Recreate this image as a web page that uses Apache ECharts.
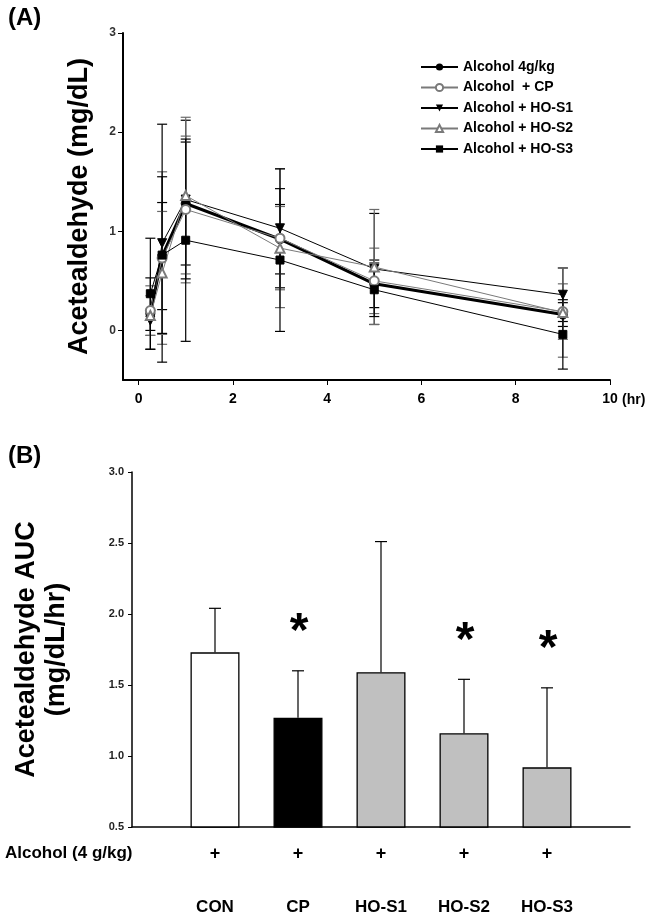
<!DOCTYPE html>
<html>
<head>
<meta charset="utf-8">
<script src="https://cdn.jsdelivr.net/npm/echarts@6/dist/echarts.min.js"></script>
<style>
  html, body { margin: 0; padding: 0; background: #fff; }
  #main { width: 670px; height: 917px; }
</style>
</head>
<body>
<div id="main"></div>
<script>
// (A) time course, hours
const times = [0.25, 0.5, 1, 3, 5, 9];
const alcMean = [0.17, 0.75, 1.28, 0.92, 0.47, 0.16];
const alcSd = [0.36, 0.54, 0.62, 0.35, 0.24, 0.12];
const cpMean = [0.20, 0.73, 1.22, 0.93, 0.50, 0.19];
const cpSd = [0.25, 0.87, 0.74, 0.70, 0.33, 0.28];
const s1Mean = [0.10, 0.88, 1.32, 1.03, 0.62, 0.36];
const s1Sd = [0.10, 1.20, 0.80, 0.60, 0.56, 0.27];
const s2Mean = [0.15, 0.58, 1.36, 0.83, 0.64, 0.18];
const s2Sd = [0.20, 0.62, 0.79, 0.42, 0.58, 0.45];
const s3Mean = [0.37, 0.76, 0.91, 0.71, 0.41, -0.04];
const s3Sd = [0.56, 0.79, 1.02, 0.72, 0.27, 0.35];
const xTicks = [0, 2, 4, 6, 8, 10];
const yTicks = [0, 1, 2, 3];

// (B) AUC
const groups = ['CON', 'CP', 'HO-S1', 'HO-S2', 'HO-S3'];
const aucMean = [1.73, 1.27, 1.59, 1.16, 0.92];
const aucTop = [2.04, 1.60, 2.51, 1.54, 1.48];
const aucSig = [false, true, false, true, true];
const alcoholRow = ['+', '+', '+', '+', '+'];

const FONT = '"Liberation Sans", Arial, sans-serif';
const NARROW = '"Liberation Sans Narrow", "Liberation Sans", Arial, sans-serif';

const lineDefs = [
    { name: 'Alcohol 4g/kg', mean: alcMean, sd: alcSd, symbol: 'circle', rot: 0, color: '#000', width: 3 },
    { name: 'Alcohol  + CP', mean: cpMean, sd: cpSd, symbol: 'emptyCircle', rot: 0, color: '#7a7a7a', width: 1 },
    { name: 'Alcohol + HO-S1', mean: s1Mean, sd: s1Sd, symbol: 'triangle', rot: 180, color: '#000', width: 1 },
    { name: 'Alcohol + HO-S2', mean: s2Mean, sd: s2Sd, symbol: 'emptyTriangle', rot: 0, color: '#7a7a7a', width: 1 },
    { name: 'Alcohol + HO-S3', mean: s3Mean, sd: s3Sd, symbol: 'rect', rot: 0, color: '#000', width: 1 }
];

function errBar(color) {
    return function (params, api) {
        const x = api.value(0);
        const lo = api.coord([x, api.value(1)]);
        const hi = api.coord([x, api.value(2)]);
        const w = 5;
        const st = { stroke: color, lineWidth: 1.2 };
        return {
            type: 'group',
            children: [
                { type: 'line', shape: { x1: lo[0], y1: lo[1], x2: hi[0], y2: hi[1] }, style: st },
                { type: 'line', shape: { x1: lo[0] - w, y1: lo[1], x2: lo[0] + w, y2: lo[1] }, style: st },
                { type: 'line', shape: { x1: hi[0] - w, y1: hi[1], x2: hi[0] + w, y2: hi[1] }, style: st }
            ]
        };
    };
}

const series = [];
lineDefs.forEach(d => {
    series.push({
        type: 'custom',
        xAxisIndex: 0,
        yAxisIndex: 0,
        z: 1,
        silent: true,
        renderItem: errBar(d.color === '#000' ? '#000' : '#6a6a6a'),
        data: times.map((t, i) => [t, d.mean[i] - d.sd[i], d.mean[i] + d.sd[i]])
    });
});
lineDefs.forEach(d => {
    const hollow = d.symbol.indexOf('empty') === 0;
    series.push({
        name: d.name,
        type: 'line',
        xAxisIndex: 0,
        yAxisIndex: 0,
        z: 3,
        symbol: d.symbol,
        symbolRotate: d.rot,
        symbolSize: d.symbol === 'rect' ? 8 : 9,
        showAllSymbol: true,
        lineStyle: { color: d.color, width: d.width },
        itemStyle: { color: hollow ? d.color : '#000', borderColor: hollow ? '#555' : '#000' },
        data: times.map((t, i) => [t, d.mean[i]])
    });
});

const slotCats = [''].concat(groups, ['']);
const plusCats = [''].concat(alcoholRow, ['']);
const barColors = ['#ffffff', '#000000', '#c0c0c0', '#c0c0c0', '#c0c0c0'];

series.push({
    type: 'bar',
    xAxisIndex: 1,
    yAxisIndex: 1,
    barWidth: 49,
    z: 2,
    data: ['-'].concat(aucMean.map((v, i) => ({
        value: v,
        itemStyle: { color: barColors[i], borderColor: '#000', borderWidth: 1.3 }
    })), ['-'])
});

series.push({
    type: 'custom',
    xAxisIndex: 1,
    yAxisIndex: 1,
    z: 1,
    silent: true,
    renderItem: function (params, api) {
        const x = api.value(0);
        const lo = api.coord([x, api.value(1)]);
        const hi = api.coord([x, api.value(2)]);
        const st = { stroke: '#000', lineWidth: 1.2 };
        const kids = [
            { type: 'line', shape: { x1: lo[0], y1: lo[1], x2: hi[0], y2: hi[1] }, style: st },
            { type: 'line', shape: { x1: hi[0] - 6, y1: hi[1], x2: hi[0] + 6, y2: hi[1] }, style: st }
        ];
        if (api.value(3)) {
            kids.push({
                type: 'text',
                x: hi[0] + 1,
                y: hi[1] - 38,
                style: { text: '*', font: 'bold 48px ' + FONT, fill: '#000', align: 'center', verticalAlign: 'middle' }
            });
        }
        return { type: 'group', children: kids };
    },
    data: groups.map((g, i) => [i + 1, aucMean[i], aucTop[i], aucSig[i] ? 1 : 0])
});

const option = {
    animation: false,
    backgroundColor: '#fff',
    textStyle: { fontFamily: FONT },
    grid: [
        { left: 123, top: 33, width: 487, height: 347 },
        { left: 132, top: 472, width: 498, height: 355 }
    ],
    legend: {
        data: lineDefs.map(d => d.name),
        orient: 'vertical',
        left: 415,
        top: 54,
        itemWidth: 37,
        itemHeight: 9,
        itemGap: 4.5,
        textStyle: { fontFamily: FONT, fontWeight: 'bold', fontSize: 14, color: '#000', lineHeight: 16, padding: [0, 0, 0, 0] }
    },
    xAxis: [
        {
            type: 'value',
            gridIndex: 0,
            min: -0.33,
            max: 10,
            axisLine: { onZero: false, lineStyle: { color: '#000', width: 2 } },
            axisTick: { customValues: xTicks, length: 5, lineStyle: { color: '#000', width: 1 } },
            axisLabel: { customValues: xTicks, color: '#000', fontFamily: NARROW, fontWeight: 'bold', fontSize: 14, margin: 12 },
            splitLine: { show: false }
        },
        {
            type: 'category',
            gridIndex: 1,
            data: plusCats,
            boundaryGap: false,
            axisLine: { onZero: false, lineStyle: { color: '#000', width: 1.5 } },
            axisTick: { show: false },
            axisLabel: { color: '#000', fontFamily: FONT, fontWeight: 'bold', fontSize: 18, margin: 18, interval: 0 }
        },
        {
            type: 'category',
            gridIndex: 1,
            position: 'bottom',
            offset: 64,
            data: slotCats,
            boundaryGap: false,
            axisLine: { show: false },
            axisTick: { show: false },
            axisLabel: { color: '#000', fontFamily: NARROW, fontWeight: 'bold', fontSize: 17, margin: 8, interval: 0 }
        }
    ],
    yAxis: [
        {
            type: 'value',
            gridIndex: 0,
            min: -0.5,
            max: 3,
            name: 'Acetealdehyde (mg/dL)',
            nameLocation: 'middle',
            nameGap: 30,
            nameTextStyle: { fontFamily: FONT, fontWeight: 'bold', fontSize: 27, color: '#000' },
            axisLine: { show: true, onZero: false, lineStyle: { color: '#000', width: 2 } },
            axisTick: { show: true, customValues: yTicks, length: 5, lineStyle: { color: '#000' } },
            axisLabel: { customValues: yTicks, color: '#333', fontFamily: NARROW, fontWeight: 'bold', fontSize: 12, margin: 7 },
            splitLine: { show: false }
        },
        {
            type: 'value',
            gridIndex: 1,
            min: 0.5,
            max: 3,
            interval: 0.5,
            name: 'Acetealdehyde AUC\n(mg/dL/hr)',
            nameLocation: 'middle',
            nameGap: 60,
            nameTextStyle: { fontFamily: FONT, fontWeight: 'bold', fontSize: 27, color: '#000', lineHeight: 30 },
            axisLine: { show: true, onZero: false, lineStyle: { color: '#000', width: 1.5 } },
            axisTick: { show: true, length: 4, lineStyle: { color: '#000' } },
            axisLabel: { color: '#222', fontFamily: NARROW, fontWeight: 'bold', fontSize: 11, margin: 8, formatter: v => v.toFixed(1) },
            splitLine: { show: false }
        }
    ],
    graphic: [
        { type: 'text', left: 8, top: 6, style: { text: '(A)', font: 'bold 24px ' + FONT, fill: '#000' } },
        { type: 'text', left: 8, top: 444, style: { text: '(B)', font: 'bold 24px ' + FONT, fill: '#000' } },
        { type: 'text', left: 622, top: 393, style: { text: '(hr)', font: 'bold 14px ' + NARROW, fill: '#000' } },
        { type: 'text', left: 5, top: 845, style: { text: 'Alcohol (4 g/kg)', font: 'bold 17px ' + FONT, fill: '#000' } }
    ],
    series: series
};

const chart = echarts.init(document.getElementById('main'));
chart.setOption(option);
window.addEventListener('resize', function () {
    chart.resize();
});
</script>
</body>
</html>
